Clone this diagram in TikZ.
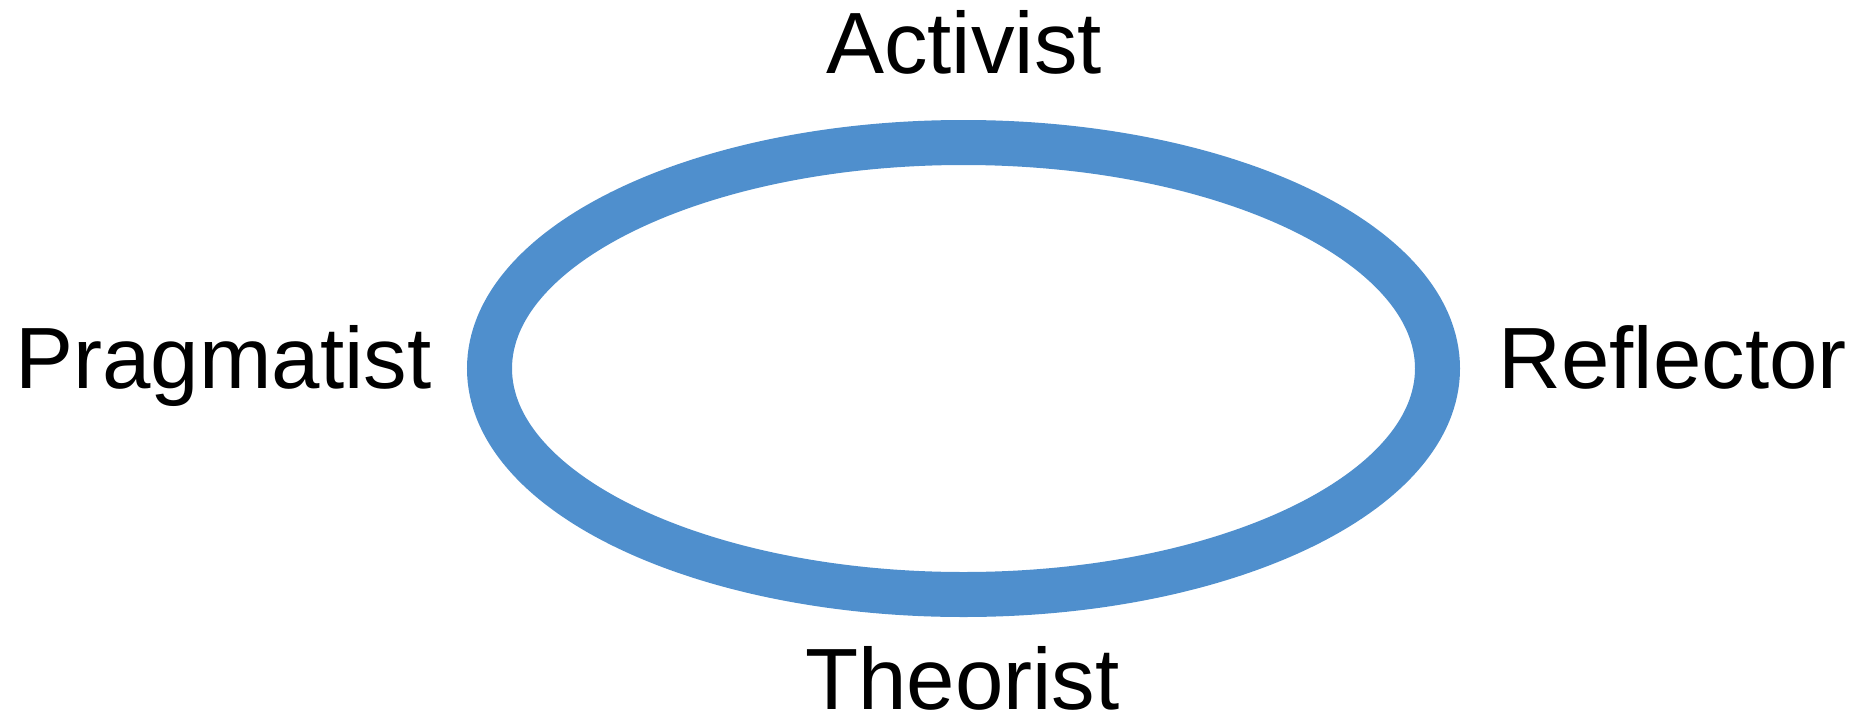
\documentclass[tikz,border=0pt]{standalone}
\usepackage{fontspec}
\setmainfont{Liberation Sans}
\definecolor{ringblue}{RGB}{79,143,205}
\begin{document}
\begin{tikzpicture}[x=1pt,y=-1pt,
  lbl/.style={anchor=base,inner sep=0pt,font=\fontsize{87}{100}\selectfont,text=black}]
\useasboundingbox (0,0) rectangle (1864,718);
\draw[ringblue,line width=45pt] (963.5,368.5) ellipse [x radius=474pt, y radius=226pt];
\node[lbl] (act) at (964,73) {Activist};
\node[lbl] (prag) at (223.5,388) {Pragmatist};
\node[lbl] (refl) at (1672.5,388) {Reflector};
\node[lbl] (theo) at (962.5,709) {Theorist};
\end{tikzpicture}
\end{document}
